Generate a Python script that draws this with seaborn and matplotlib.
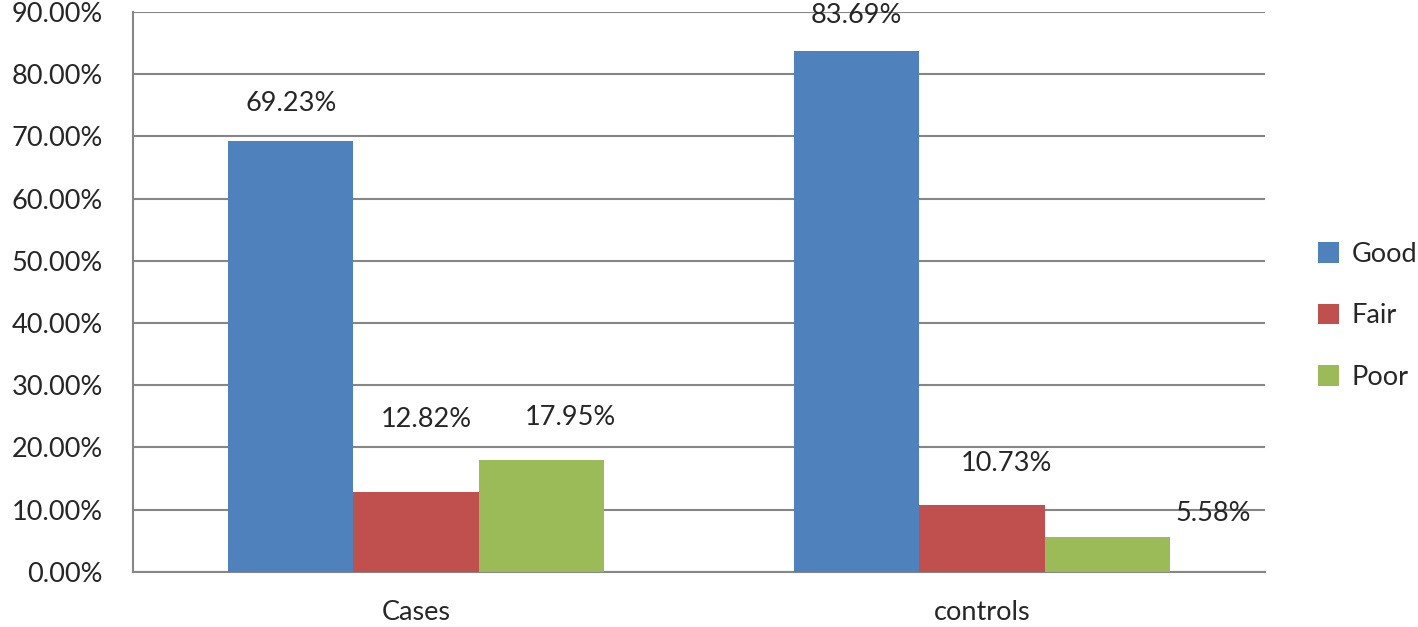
import pandas as pd
import seaborn as sns
import matplotlib.pyplot as plt
from matplotlib.ticker import PercentFormatter, FixedLocator

groups = ["Cases", "controls"]
ratings = ["Good", "Fair", "Poor"]
cases_vals = [69.23, 12.82, 17.95]
controls_vals = [83.69, 10.73, 5.58]
palette = ["#4F81BD", "#C0504D", "#9BBB59"]
# label nudges (points) relative to bar top centre, like Excel placed them
label_dx = [0, 7, 21, 0, 18, 76]
label_dy = [27, 52, 31, 26, 30, 17]

df = pd.DataFrame({
    "group": [g for g in groups for _ in ratings],
    "rating": ratings * len(groups),
    "value": cases_vals + controls_vals,
})

sns.set_style("white")
plt.rcParams["font.family"] = ["Lato", "DejaVu Sans"]
grid_col = "#868686"
fs = 19.5

fig, ax = plt.subplots(figsize=(14.18, 6.27), dpi=100)
fig.subplots_adjust(left=0.094, right=0.892, bottom=0.088, top=0.981)

sns.barplot(data=df, x="group", y="value", hue="rating", hue_order=ratings,
            palette=palette, width=0.665, gap=0, saturation=1, ax=ax,
            errorbar=None, linewidth=0, zorder=3)

ax.set_xlim(-0.5, 1.5)
ax.set_ylim(0, 90)
ax.set_yticks(range(0, 91, 10))
ax.yaxis.set_major_formatter(PercentFormatter(decimals=2))
ax.grid(axis="y", color=grid_col, lw=1.5, zorder=0)
ax.set_axisbelow(True)

for s in ["top", "right"]:
    ax.spines[s].set_visible(False)
for s in ["left", "bottom"]:
    ax.spines[s].set_color(grid_col)
    ax.spines[s].set_linewidth(1.5)

ax.tick_params(axis="y", length=8, width=1.5, color=grid_col, labelsize=fs, pad=14)
ax.tick_params(axis="x", which="major", length=0, labelsize=fs, pad=20)
ax.xaxis.set_minor_locator(FixedLocator([-0.5, 0.5, 1.5]))
ax.tick_params(axis="x", which="minor", length=8, width=1.5, color=grid_col)
ax.set_xlabel("")
ax.set_ylabel("")

bars = [list(cont) for cont in ax.containers]
# containers are per hue; reorder to group-major
ordered = [bars[h][g] for g in range(len(groups)) for h in range(len(ratings))]
for i, b in enumerate(ordered):
    val = b.get_height()
    ax.annotate(f"{val:.2f}%", (b.get_x() + b.get_width() / 2, val),
                xytext=(label_dx[i], label_dy[i]), textcoords="offset points",
                ha="center", va="center", fontsize=fs)

ax.legend(loc="center left", bbox_to_anchor=(1.025, 0.457), frameon=False,
          fontsize=fs, handlelength=0.8, handleheight=0.8, labelspacing=1.35,
          handletextpad=0.45)

fig.savefig("out.png", dpi=100)
plt.close()
